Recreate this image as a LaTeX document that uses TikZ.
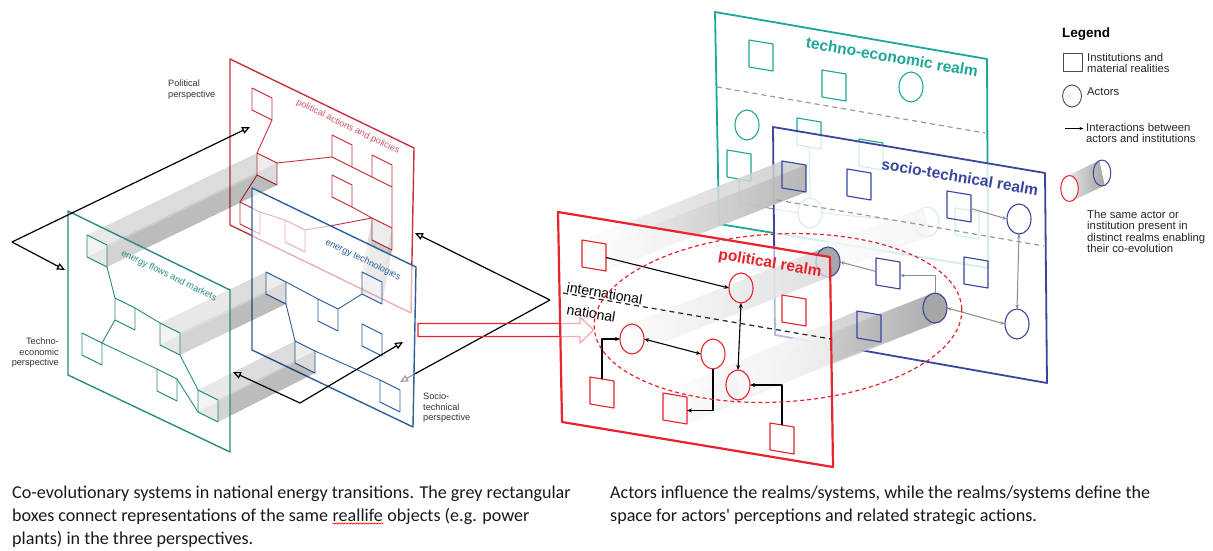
\documentclass[tikz,border=0pt]{standalone}
\usepackage{fontspec}
\setmainfont{Liberation Sans}
\newfontfamily\capfont{Carlito}
\usetikzlibrary{arrows.meta,shapes.geometric,calc,decorations.pathmorphing}

\definecolor{polred}{HTML}{C8323E}
\definecolor{poltext}{HTML}{D0566A}
\definecolor{socblue}{HTML}{2D5F9B}
\definecolor{tecteal}{HTML}{2A8B7E}
\definecolor{realmred}{HTML}{E8232B}
\definecolor{realmteal}{HTML}{1EA797}
\definecolor{realmblue}{HTML}{3A469D}
\definecolor{linkgrey}{HTML}{8C8C8C}
\definecolor{dashgrey}{HTML}{9A9A9A}
\definecolor{labelgrey}{HTML}{333333}

% corners of a slanted square: -1 nw, -2 ne, -3 se, -4 sw
\newcommand\lsqpts[3]{%
  \coordinate (#1-1) at (#2,#3);
  \coordinate (#1-2) at ({#2+20},{#3+10});
  \coordinate (#1-3) at ({#2+20},{#3+32});
  \coordinate (#1-4) at (#2,{#3+22});}
\newcommand\rsqpts[3]{%
  \coordinate (#1-1) at (#2,#3);
  \coordinate (#1-2) at ({#2+24},{#3+4});
  \coordinate (#1-3) at ({#2+24},{#3+31});
  \coordinate (#1-4) at (#2,{#3+27});}
% grey box joining the same object in two planes
\newcommand\plainlink[2]{%
  \fill[lbA] (#1-1) -- (#1-2) -- (#2-2) -- (#2-1) -- cycle;
  \fill[lbA] (#1-1) -- (#1-4) -- (#2-4) -- (#2-1) -- cycle;
  \fill[lbB] (#1-2) -- (#1-3) -- (#2-3) -- (#2-2) -- cycle;
  \fill[lbB] (#1-4) -- (#1-3) -- (#2-3) -- (#2-4) -- cycle;}
\newcommand\shadelink[2]{%
  \shade[rbA] (#1-4) -- (#1-3) -- (#2-3) -- (#2-2) -- (#2-1) -- (#1-1) -- cycle;
  \shade[rbB] (#1-2) -- (#1-3) -- (#2-3) -- (#2-2) -- cycle;}
% grey tube joining the same actor in two planes
\newcommand\tubelink[3]{%
  \shade[#1] ($(#2)+(-3.6,-14.3)$) -- ($(#3)+(-3.6,-14.3)$) -- ($(#3)+(3.6,14.3)$) -- ($(#2)+(3.6,14.3)$) -- cycle;}

\begin{document}
\begin{tikzpicture}[x=1pt,y=-1pt,line join=round,
  lsqn/.style={draw, line width=0.9pt, minimum width=20pt, minimum height=22pt, inner sep=0pt, outer sep=0pt, yslant=-0.5, anchor=north west},
  rsqn/.style={draw, line width=1.1pt, minimum width=24pt, minimum height=27pt, inner sep=0pt, outer sep=0pt, yslant=-0.1667, anchor=north west},
  rcn/.style={ellipse, draw, line width=1.1pt, minimum width=24pt, minimum height=30pt, inner sep=0pt, outer sep=0pt},
  lnet/.style={line width=0.9pt},
  lbA/.style={black, opacity=0.07},
  lbB/.style={black, opacity=0.14},
  rbA/.style={left color=black!3, right color=black!22, opacity=0.85},
  rbB/.style={left color=black!5, right color=black!32, opacity=0.7},
  tubeA/.style={left color=black!4, right color=black!38, opacity=0.85},
  blk/.style={-{Stealth[length=5pt,width=4pt]}, line width=1.1pt},
  blk2/.style={{Stealth[length=5pt,width=4pt]}-{Stealth[length=5pt,width=4pt]}, line width=1.1pt},
  gry/.style={-{Stealth[length=4.5pt,width=3.5pt]}, line width=1pt, draw=linkgrey},
  gry2/.style={{Stealth[length=4.5pt,width=3.5pt]}-{Stealth[length=4.5pt,width=3.5pt]}, line width=1pt, draw=linkgrey},
  opn/.style={-{Triangle[open,length=8pt,width=7pt]}, line width=1.2pt},
  persp/.style={font=\fontsize{9.2}{10.2}\selectfont, inner sep=0pt, text=labelgrey},
  ptext/.style={font=\fontsize{9.2}{10}\selectfont, inner sep=0pt, rotate=-26},
  realm/.style={font=\fontsize{15.5}{16}\selectfont\bfseries, inner sep=0pt, rotate=-9.6},
  legtxt/.style={font=\fontsize{11.3}{11.4}\selectfont, inner sep=0pt, align=left, anchor=north west, text=black!85},
  captxt/.style={font=\capfont\fontsize{18.1}{23}\selectfont, inner sep=0pt, anchor=base west, text=black!90}]

\useasboundingbox (0,0) rectangle (1213,551);
\fill[white] (0,0) rectangle (1213,551);

%%%%%%%% left sketch: three perspectives %%%%%%%%
% square positions
\lsqpts{R1}{252}{88} \lsqpts{R2}{332}{135} \lsqpts{R3}{372}{155} \lsqpts{R4}{332}{175}
\lsqpts{R5}{257}{153} \lsqpts{F1}{240}{202} \lsqpts{F2}{285}{220} \lsqpts{F3}{372}{218}
\lsqpts{B1}{266}{272} \lsqpts{B2}{318}{299} \lsqpts{B3}{362}{272} \lsqpts{B4}{362}{324}
\lsqpts{B5}{295}{341} \lsqpts{B6}{380}{380}
\lsqpts{T1}{87}{235} \lsqpts{T2}{115}{298} \lsqpts{T3}{160}{323} \lsqpts{T4}{82}{333}
\lsqpts{T5}{157}{369} \lsqpts{T6}{198}{390}

% political perspective (back)
\filldraw[fill=white, draw=polred, line width=1.4pt] (230,59) -- (414,148) -- (411,313) -- (230,225) -- cycle;
\foreach \n in {R1,R2,R3,R4,R5,F1,F2,F3} \node[lsqn, draw=polred] (\n) at (\n-1) {};
\draw[lnet, polred] (R1.south east) -- (R5.north west)
  (R5.north east) -- (R2.south west)
  (R2.south east) -- (R3.south west)
  (R3.south east) -- (F3.north east)
  (R4.south east) -- (F3.north west)
  (R5.south west) -- (F1.north west)
  (F1.north east) -- (F2.north west)
  (F2.north east) -- (335,225) -- (F3.north west);
\node[ptext, text=poltext] (polnote) at (348,127) {political actions and policies};
\node[persp, anchor=north west, align=left] (polname) at (168,80) {Political\\perspective};

\plainlink{T1}{R5}
\plainlink{F3}{B3}

\coordinate (rv) at (550,300);
\coordinate (rva) at (415,233);
\coordinate (rvb) at (400,382);
\draw[opn] (rv) -- (rva);
\draw[opn] (rv) -- (rvb);

% socio-technical perspective
\filldraw[fill=white, fill opacity=0.62, draw=socblue, line width=1.4pt] (252,188) -- (416,267) -- (413,427) -- (252,350) -- cycle;
\foreach \n in {B1,B2,B3,B4,B5,B6} \node[lsqn, draw=socblue] (\n) at (\n-1) {};
\draw[lnet, socblue] (B1.north east) -- (B2.north west)
  (B1.south east) -- (B5.north west)
  (B5.north east) -- (B6.north west)
  (B2.north east) -- (B3.south west);
\node[ptext, text=socblue] (socnote) at (363,260) {energy technologies};

\plainlink{T3}{B1}
\plainlink{T6}{B5}

% techno-economic perspective (front)
\filldraw[fill=white, fill opacity=0.35, draw=tecteal, line width=1.4pt] (68,211) -- (230,290) -- (230,452) -- (68,375) -- cycle;
\foreach \n in {T1,T2,T3,T4,T5,T6} \node[lsqn, draw=tecteal] (\n) at (\n-1) {};
\draw[lnet, tecteal] (T1.south east) -- (T2.north west)
  (T2.north east) -- (T3.north west)
  (T2.south west) -- (T4.north east)
  (T4.north east) -- (T5.north west)
  (T5.north east) -- (T6.south west)
  (T3.south east) -- (T6.north west);
\node[ptext, text=tecteal] (tecnote) at (169,276) {energy flows and markets};
\node[persp, anchor=north east, align=right] (tecname) at (59,338) {Techno-\\economic\\perspective};
\node[persp, anchor=north west, align=left] (socname) at (423,393) {Socio-\\technical\\perspective};

\coordinate (lv) at (12,242);
\coordinate (lva) at (250,127);
\coordinate (lvb) at (65,270);
\draw[opn] (lv) -- (lva);
\draw[opn] (lv) -- (lvb);
\coordinate (bv) at (300,403);
\coordinate (bva) at (233,372);
\coordinate (bvb) at (403,342);
\draw[opn] (bv) -- (bva);
\draw[opn] (bv) -- (bvb);

% hollow arrow between the sketches
\draw[realmred, line width=1.3pt] (418,323.5) -- (580,323.5) -- (580,317) -- (593.5,330) -- (580,343) -- (580,336.5) -- (418,336.5) -- cycle;

%%%%%%%% right sketch: three realms %%%%%%%%
\rsqpts{TS1}{749}{40} \rsqpts{TS2}{822}{70} \rsqpts{TS3}{797}{118}
\rsqpts{TS4}{859}{139} \rsqpts{TS5}{727}{150} \rsqpts{TS6}{955}{208}
\rsqpts{BS1}{782}{161} \rsqpts{BS2}{847}{169} \rsqpts{BS3}{947}{191}
\rsqpts{BS4}{876}{258} \rsqpts{BS5}{964}{257} \rsqpts{BS6}{857}{311}
\rsqpts{PS1}{582}{240} \rsqpts{PS2}{590}{377} \rsqpts{PS3}{663}{393}
\rsqpts{PS4}{770}{423} \rsqpts{PS5}{782}{295}
\coordinate (PC1c) at (741,288);
\coordinate (PC2c) at (632,339);
\coordinate (PC3c) at (713,354);
\coordinate (PC4c) at (738,385);
\coordinate (BC2c) at (828,262);
\coordinate (BC3c) at (935,308);

% techno-economic realm (back)
\filldraw[fill=white, draw=realmteal, line width=1.8pt] (715,12) -- (987,59) -- (988,268) -- (719,224) -- cycle;
\draw[dashgrey, line width=1.2pt, dash pattern=on 5pt off 4pt] (717,87) -- (985,133);
\foreach \n in {TS1,TS2,TS3,TS4,TS5,TS6} \node[rsqn, draw=realmteal] (\n) at (\n-1) {};
\node[rcn, draw=realmteal] (TC1) at (911,87) {};
\node[rcn, draw=realmteal] (TC2) at (747,125) {};
\node[rcn, draw=realmteal] (TC3) at (810,213) {};
\node[rcn, draw=realmteal] (TC4) at (927,222) {};
\draw[realmteal, line width=0.9pt] (TS3.south) -- (TC3.north) (TC3.east) -- (TC4.west);
\draw[gry] (TC3.west) -- (739,203) -- (TS5.south);
\node[realm, text=realmteal] (tetitle) at (892,57) {techno-economic realm};
\tubelink{left color=black!3, right color=black!22, opacity=0.7}{PC1c}{TC4}

% socio-technical realm
\filldraw[fill=white, fill opacity=0.8, draw=realmblue, line width=1.8pt] (773,127) -- (1045,173) -- (1047,383) -- (775,335) -- cycle;
\shadelink{PS1}{BS1}
\shadelink{PS3}{BS6}
\tubelink{tubeA}{PC2c}{BC2c}
\tubelink{tubeA}{PC4c}{BC3c}
\draw[dashgrey, line width=1.2pt, dash pattern=on 5pt off 4pt] (777,200) -- (1044,246);
\foreach \n in {BS1,BS2,BS3,BS4,BS5,BS6} \node[rsqn, draw=realmblue] (\n) at (\n-1) {};
\node[rcn, draw=realmblue] (BC1) at (1019,219) {};
\node[rcn, draw=realmblue, fill=black!35] (BC2) at (BC2c) {};
\node[rcn, draw=realmblue, fill=black!35] (BC3) at (BC3c) {};
\node[rcn, draw=realmblue] (BC4) at (1017,324) {};
\draw[gry] (BS3.east) -- (BC1.west);
\draw[gry2] (BC1.south) -- (BC4.north);
\draw[gry2] (BC3.east) -- (BC4.west);
\draw[gry] (BC3.north) |- (BS4.east);
\draw[gry] (BS4.west) -- (BC2.east);
\node[realm, text=realmblue] (sttitle) at (960,177) {socio-technical realm};

% political realm (front)
\filldraw[fill=white, fill opacity=0.62, draw=realmred, line width=2.2pt] (558,212) -- (830,257) -- (833,467) -- (562,422) -- cycle;
\draw[black!85, line width=1.2pt, dash pattern=on 5pt off 4pt] (563,293) -- (831,339);
\foreach \n in {PS1,PS2,PS3,PS4,PS5} \node[rsqn, draw=realmred] (\n) at (\n-1) {};
\node[rcn, draw=realmred] (PC1) at (PC1c) {};
\node[rcn, draw=realmred] (PC2) at (PC2c) {};
\node[rcn, draw=realmred] (PC3) at (PC3c) {};
\node[rcn, draw=realmred] (PC4) at (PC4c) {};
\draw[blk] (PS1.east) -- (PC1.west);
\draw[blk2] (PC1.south) -- (PC4.north);
\draw[blk2] (PC2.east) -- (PC3.west);
\draw[blk] (PS2.north) |- (PC2.west);
\draw[blk] (PC3.south) |- (PS3.east);
\draw[blk] (PS4.north) |- (PC4.east);
\node[realm, text=realmred] (potitle) at (770,264) {political realm};
\node[font=\fontsize{14}{14}\selectfont, inner sep=0pt, anchor=base west, rotate=-9.6] (intl) at (566,292) {international};
\node[font=\fontsize{14}{14}\selectfont, inner sep=0pt, anchor=base west, rotate=-9.6] (natl) at (566,314) {national};
\draw[realmred, line width=1.2pt, dash pattern=on 4pt off 3pt, rotate around={3:(778,318)}] (778,318) ellipse [x radius=184, y radius=84];

%%%%%%%% legend %%%%%%%%
\node[font=\fontsize{13.5}{14}\selectfont\bfseries, inner sep=0pt, anchor=base west] (legtitle) at (1062,38) {Legend};
\node[draw=black!70, line width=0.9pt, minimum width=19pt, minimum height=18pt, inner sep=0pt, anchor=north west] (legsq) at (1063,53) {};
\node[legtxt] (legsqt) at (1087,53) {Institutions and\\material realities};
\node[ellipse, draw=black!70, line width=0.9pt, minimum width=19pt, minimum height=22pt, inner sep=0pt] (legci) at (1072,96) {};
\node[legtxt] (legcit) at (1087,88) {Actors};
\coordinate (legarA) at (1065,128.5);
\coordinate (legarB) at (1083.5,128.5);
\draw[-{Stealth[length=4pt,width=3pt]}, line width=0.9pt] (legarA) -- (legarB);
\node[legtxt] (legart) at (1086,123) {Interactions between\\actors and institutions};
\coordinate (legcrc) at (1069.5,188.5);
\coordinate (legcbc) at (1102,173);
\shade[left color=black!10, right color=black!35] ($(legcrc)+(-2.7,-12.4)$) -- ($(legcbc)+(-2.7,-12.4)$) -- ($(legcbc)+(2.7,12.4)$) -- ($(legcrc)+(2.7,12.4)$) -- cycle;
\node[ellipse, draw=realmblue, line width=1pt, minimum width=17.6pt, minimum height=26pt, inner sep=0pt] (legcb) at (legcbc) {};
\node[ellipse, draw=realmred, fill=white, line width=1pt, minimum width=17.6pt, minimum height=26pt, inner sep=0pt] (legcr) at (legcrc) {};
\node[legtxt] (legcyt) at (1087,210) {The same actor or\\institution present in\\distinct realms enabling\\their co-evolution};

%%%%%%%% captions %%%%%%%%
\node[captxt] (capL1) at (12,498) {Co-evolutionary systems in national energy transitions. The grey rectangular};
\node[captxt] (capL2a) at (12,521) {boxes connect representations of the same};
\node[captxt] (capL2b) at ([xshift=4.1pt]capL2a.base east) {reallife};
\node[captxt] (capL2c) at ([xshift=4.1pt]capL2b.base east) {objects (e.g. power};
\node[captxt] (capL3) at (12,544) {plants) in the three perspectives.};
\draw[red, line width=0.6pt, decorate, decoration={snake, amplitude=0.7pt, segment length=3pt}] ([yshift=-2.5pt]capL2b.base west) -- ([yshift=-2.5pt]capL2b.base east);
\node[captxt] (capR1) at (610,498) {Actors influence the realms/systems, while the realms/systems define the};
\node[captxt] (capR2) at (610,521) {space for actors' perceptions and related strategic actions.};
\end{tikzpicture}
\end{document}
